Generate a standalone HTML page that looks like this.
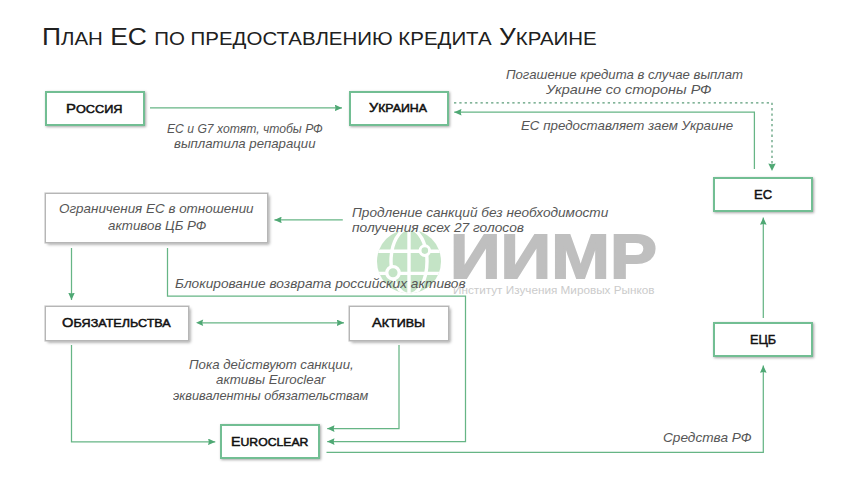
<!DOCTYPE html>
<html><head><meta charset="utf-8">
<style>
html,body{margin:0;padding:0;background:#fff;}
body{width:860px;height:484px;position:relative;overflow:hidden;font-family:"Liberation Sans",sans-serif;}
.box{position:absolute;box-sizing:border-box;background:#fff;}
.g{border:2px solid #72be93;box-shadow:1px 1px 2.5px rgba(0,0,0,0.35);}
.s{border:1px solid #b6b6b6;box-shadow:0 0 0 0.6px #c8c8c8,1.5px 1.6px 3px rgba(0,0,0,0.38);}
svg{position:absolute;left:0;top:0;}
.ln{position:absolute;white-space:nowrap;line-height:1;transform-origin:0 0;font-family:"Liberation Sans",sans-serif;}
</style></head>
<body>
<!-- watermark globe -->
<svg width="860" height="484">
  <defs><clipPath id="gc"><circle cx="409" cy="261.5" r="32"/></clipPath></defs>
  <circle cx="409" cy="261.5" r="32" fill="#c4e4c6"/>
  <g stroke="#fff" stroke-width="3.4" fill="none" clip-path="url(#gc)">
    <line x1="409" y1="225" x2="409" y2="298"/>
    <line x1="370" y1="251.2" x2="448" y2="251.2"/>
    <line x1="370" y1="273.4" x2="448" y2="273.4"/>
    <ellipse cx="409" cy="261.5" rx="18" ry="33"/>
  </g>
  <circle cx="424.8" cy="250.6" r="4.8" fill="#c4e4c6" stroke="#fff" stroke-width="3"/>
  <circle cx="393" cy="272.8" r="6.2" fill="#c4e4c6" stroke="#fff" stroke-width="3.3"/>
</svg>

<!-- connector lines -->
<svg width="860" height="484">
  <defs>
    <marker id="ah" viewBox="0 0 10 10" refX="10" refY="5" markerWidth="7.3" markerHeight="6.6" markerUnits="userSpaceOnUse" orient="auto" preserveAspectRatio="none">
      <path d="M0 0 L10 5 L0 10 L1.2 5 Z" fill="#4fa874"/>
    </marker>
    <marker id="ahd" viewBox="0 0 10 10" refX="10" refY="5" markerWidth="7.6" markerHeight="7.4" markerUnits="userSpaceOnUse" orient="auto" preserveAspectRatio="none">
      <path d="M0 0 L10 5 L0 10 L1.2 5 Z" fill="#4fa874"/>
    </marker>
  </defs>
  <g stroke="#66b585" stroke-width="1.25" fill="none">
    <line x1="150" y1="107.9" x2="342" y2="107.9" marker-end="url(#ah)"/>
    <polyline points="754.4,169 754.4,112.2 454.2,112.2" marker-end="url(#ah)"/>
    <polyline points="454,102.8 772,102.8 772,171" stroke="#5a9c78" stroke-width="1.25" stroke-dasharray="2.3 3" marker-end="url(#ahd)"/>
    <line x1="763.3" y1="318" x2="763.3" y2="217.5" marker-end="url(#ah)"/>
    <polyline points="326.5,452.3 763.3,452.3 763.3,365.5" marker-end="url(#ah)"/>
    <line x1="342.8" y1="219.9" x2="274.4" y2="219.9" marker-end="url(#ah)"/>
    <line x1="71.5" y1="248" x2="71.5" y2="300" marker-end="url(#ah)"/>
    <polyline points="167.5,248 167.5,296 465.5,296 465.5,441.6 327.2,441.6" marker-end="url(#ah)"/>
    <line x1="200" y1="322.8" x2="344" y2="322.8" marker-end="url(#ah)"/>
    <polyline points="399,345 399,428.6 327.2,428.6" marker-end="url(#ah)"/>
    <polyline points="71.5,345 71.5,441.8 215.3,441.8" marker-end="url(#ah)"/>
  </g>
  <path d="M196 322.8 L203.2 319.6 L202.2 322.8 L203.2 326 Z" fill="#4fa874"/>
</svg>

<!-- boxes -->
<div class="box g" style="left:44.5px;top:90.5px;width:100px;height:35px"></div>
<div class="box g" style="left:349px;top:90.7px;width:100px;height:35px"></div>
<div class="box g" style="left:713px;top:176.5px;width:100px;height:35.5px"></div>
<div class="box g" style="left:713px;top:322.3px;width:100px;height:34.8px"></div>
<div class="box g" style="left:220px;top:424px;width:100px;height:35px"></div>
<div class="box s" style="left:44.5px;top:192.5px;width:223.5px;height:50px"></div>
<div class="box s" style="left:44.8px;top:305.8px;width:144.4px;height:35px"></div>
<div class="box s" style="left:349.2px;top:305.8px;width:99.6px;height:35px"></div>

<div id="title" class="ln" style="left:42.30px;top:24.68px;font-size:24.00px;font-weight:normal;font-style:normal;color:#202020;transform:scaleX(1.1008);">П<span style="font-size:18.60px">ЛАН</span> ЕС <span style="font-size:18.60px">ПО ПРЕДОСТАВЛЕНИЮ КРЕДИТА</span> У<span style="font-size:18.60px">КРАИНЕ</span></div>
<div id="l_ros" class="ln" style="left:65.80px;top:101.77px;font-size:13.50px;font-weight:normal;font-style:normal;color:#111111;transform:scaleX(1.0980);-webkit-text-stroke:0.5px #111111">Р<span style="font-size:11.60px">ОССИЯ</span></div>
<div id="l_ukr" class="ln" style="left:369.30px;top:101.47px;font-size:13.50px;font-weight:normal;font-style:normal;color:#111111;transform:scaleX(1.0655);-webkit-text-stroke:0.5px #111111">У<span style="font-size:11.60px">КРАИНА</span></div>
<div id="l_es" class="ln" style="left:753.64px;top:187.87px;font-size:13.50px;font-weight:normal;font-style:normal;color:#111111;transform:scaleX(0.9611);-webkit-text-stroke:0.5px #111111">ЕС</div>
<div id="l_ecb" class="ln" style="left:749.56px;top:332.87px;font-size:13.50px;font-weight:normal;font-style:normal;color:#111111;transform:scaleX(0.9407);-webkit-text-stroke:0.5px #111111">ЕЦБ</div>
<div id="l_euro" class="ln" style="left:231.25px;top:434.87px;font-size:13.50px;font-weight:normal;font-style:normal;color:#111111;transform:scaleX(1.0542);-webkit-text-stroke:0.5px #111111">E<span style="font-size:11.60px">UROCLEAR</span></div>
<div id="l_obl" class="ln" style="left:62.30px;top:316.47px;font-size:13.50px;font-weight:normal;font-style:normal;color:#111111;transform:scaleX(1.0861);-webkit-text-stroke:0.5px #111111">О<span style="font-size:11.60px">БЯЗАТЕЛЬСТВА</span></div>
<div id="l_akt" class="ln" style="left:372.30px;top:316.37px;font-size:13.50px;font-weight:normal;font-style:normal;color:#111111;transform:scaleX(1.0796);-webkit-text-stroke:0.5px #111111">А<span style="font-size:11.60px">КТИВЫ</span></div>
<div id="t1a" class="ln" style="left:167.40px;top:121.82px;font-size:13.50px;font-weight:normal;font-style:italic;color:#565656;transform:scaleX(0.9006);">ЕС и G7 хотят, чтобы РФ</div>
<div id="t1b" class="ln" style="left:174.20px;top:137.12px;font-size:13.50px;font-weight:normal;font-style:italic;color:#565656;transform:scaleX(0.9766);">выплатила репарации</div>
<div id="t2a" class="ln" style="left:505.70px;top:67.72px;font-size:13.50px;font-weight:normal;font-style:italic;color:#565656;transform:scaleX(0.9753);">Погашение кредита в случае выплат</div>
<div id="t2b" class="ln" style="left:545.90px;top:83.42px;font-size:13.50px;font-weight:normal;font-style:italic;color:#565656;transform:scaleX(1.0671);">Украине со стороны РФ</div>
<div id="t3" class="ln" style="left:521.40px;top:118.62px;font-size:13.50px;font-weight:normal;font-style:italic;color:#565656;transform:scaleX(0.9856);">ЕС предоставляет заем Украине</div>
<div id="t4a" class="ln" style="left:351.80px;top:205.52px;font-size:13.50px;font-weight:normal;font-style:italic;color:#565656;transform:scaleX(1.0087);">Продление санкций без необходимости</div>
<div id="t4b" class="ln" style="left:351.80px;top:221.12px;font-size:13.50px;font-weight:normal;font-style:italic;color:#565656;transform:scaleX(1.0172);">получения всех 27 голосов</div>
<div id="t5" class="ln" style="left:174.60px;top:276.52px;font-size:13.50px;font-weight:normal;font-style:italic;color:#565656;transform:scaleX(1.0132);">Блокирование возврата российских активов</div>
<div id="t6a" class="ln" style="left:189.30px;top:357.62px;font-size:13.50px;font-weight:normal;font-style:italic;color:#565656;transform:scaleX(0.9778);">Пока действуют санкции,</div>
<div id="t6b" class="ln" style="left:215.80px;top:373.12px;font-size:13.50px;font-weight:normal;font-style:italic;color:#565656;transform:scaleX(0.9839);">активы Euroclear</div>
<div id="t6c" class="ln" style="left:172.60px;top:388.52px;font-size:13.50px;font-weight:normal;font-style:italic;color:#565656;transform:scaleX(0.9435);">эквивалентны обязательствам</div>
<div id="t7" class="ln" style="left:663.09px;top:430.92px;font-size:13.50px;font-weight:normal;font-style:italic;color:#565656;transform:scaleX(1.0105);">Средства РФ</div>
<div id="t8a" class="ln" style="left:58.71px;top:202.42px;font-size:13.50px;font-weight:normal;font-style:italic;color:#565656;transform:scaleX(0.9944);">Ограничения ЕС в отношении</div>
<div id="t8b" class="ln" style="left:108.40px;top:218.52px;font-size:13.50px;font-weight:normal;font-style:italic;color:#565656;transform:scaleX(0.9859);">активов ЦБ РФ</div>
<div id="iimr" class="ln" style="left:450.49px;top:224.84px;font-size:63.80px;font-weight:bold;font-style:normal;color:#bfbfbf;transform:scaleX(1.1038);-webkit-text-stroke:1.8px #bfbfbf">ИИМР</div>
<div id="inst" class="ln" style="left:452.59px;top:283.73px;font-size:11.60px;font-weight:normal;font-style:normal;color:#cbcbcb;transform:scaleX(1.0121);">Институт Изучения Мировых Рынков</div>
</body></html>
